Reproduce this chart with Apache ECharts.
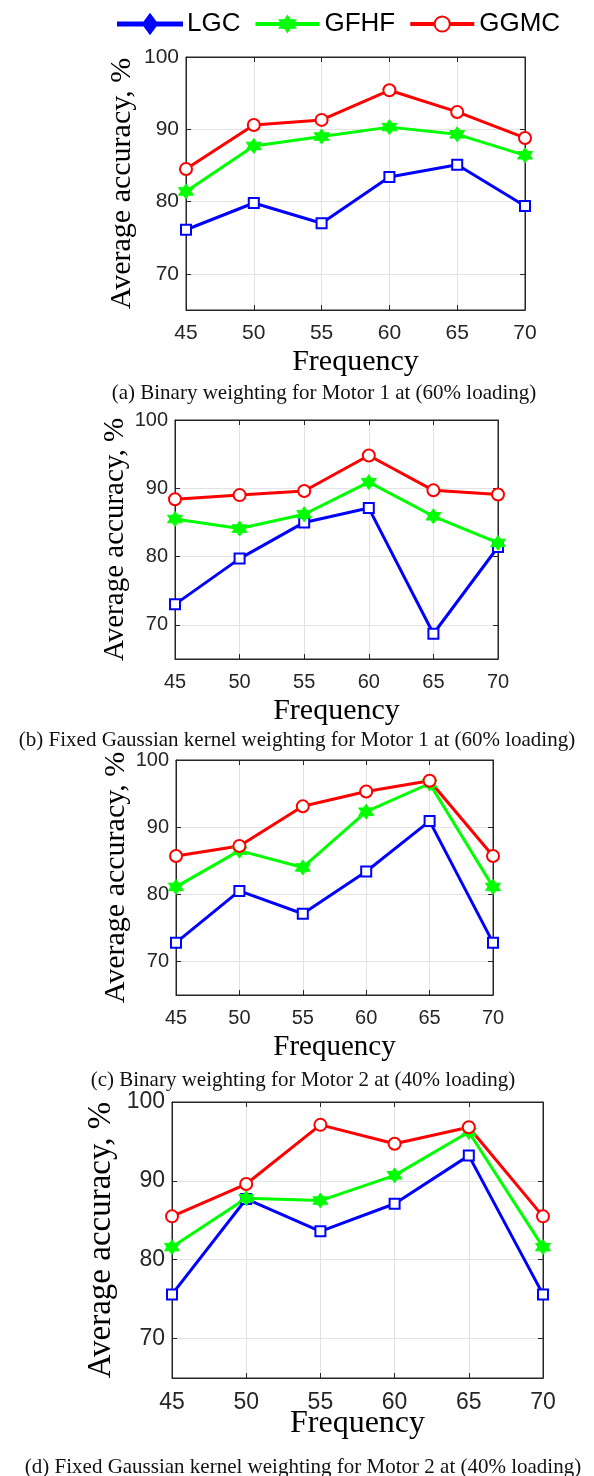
<!DOCTYPE html>
<html>
<head>
<meta charset="utf-8">
<script src="https://cdn.jsdelivr.net/npm/echarts@6/dist/echarts.min.js"></script>
<style>
  html, body { margin: 0; padding: 0; background: #fff; }
  #main { width: 594px; height: 1476px; }
</style>
</head>
<body>
<div id="main"></div>
<script>
// x categories (frequency) and tick labels
var freq = [45, 50, 55, 60, 65, 70];
var yTicks = [70, 80, 90, 100];

// (a) Binary weighting, Motor 1
var lgcA  = [76.1, 79.8, 77.0, 83.4, 85.1, 79.4];
var gfhfA = [81.4, 87.7, 89.0, 90.3, 89.3, 86.4];
var ggmcA = [84.5, 90.6, 91.3, 95.4, 92.4, 88.8];
// (b) Fixed Gaussian kernel weighting, Motor 1
var lgcB  = [73.0, 79.7, 85.0, 87.1, 68.7, 81.4];
var gfhfB = [85.5, 84.1, 86.2, 90.9, 85.9, 82.0];
var ggmcB = [88.4, 89.0, 89.6, 94.8, 89.7, 89.1];
// (c) Binary weighting, Motor 2
var lgcC  = [72.8, 80.5, 77.1, 83.4, 90.9, 72.8];
var gfhfC = [81.1, 86.5, 84.0, 92.3, 96.5, 81.1];
var ggmcC = [85.7, 87.2, 93.1, 95.3, 96.9, 85.7];
// (d) Fixed Gaussian kernel weighting, Motor 2
var lgcD  = [75.6, 87.7, 83.6, 87.1, 93.2, 75.6];
var gfhfD = [81.6, 87.8, 87.5, 90.7, 96.2, 81.6];
var ggmcD = [85.5, 89.6, 97.1, 94.7, 96.8, 85.5];

var captions = [
    '(a) Binary weighting for Motor 1 at (60% loading)',
    '(b) Fixed Gaussian kernel weighting for Motor 1 at (60% loading)',
    '(c) Binary weighting for Motor 2 at (40% loading)',
    '(d) Fixed Gaussian kernel weighting for Motor 2 at (40% loading)'
];

var panelData = [
    [lgcA, gfhfA, ggmcA],
    [lgcB, gfhfB, ggmcB],
    [lgcC, gfhfC, ggmcC],
    [lgcD, gfhfD, ggmcD]
];

// layout of each panel (pixels)
var boxes = [
    {left: 186, top: 57,   width: 339, height: 253, tick: 21, yName: 30, yGap: 49, xName: 30, xGap: 37, capX: 324, capY: 393},
    {left: 175, top: 420,  width: 323, height: 239, tick: 20, yName: 29, yGap: 45, xName: 30, xGap: 37, capX: 297, capY: 740},
    {left: 176, top: 760,  width: 317, height: 235, tick: 20, yName: 30, yGap: 45, xName: 29, xGap: 38, capX: 303, capY: 1080},
    {left: 172, top: 1102, width: 371, height: 276, tick: 23, yName: 33, yGap: 54, xName: 32, xGap: 30, capX: 303, capY: 1467}
];

var names = ['LGC', 'GFHF', 'GGMC'];
var colors = ['#0000ff', '#00ff00', '#ff0000'];
var star = 'path://M50 0L64.43 25L93.3 25L78.87 50L93.3 75L64.43 75L50 100L35.57 75L6.7 75L21.13 50L6.7 25L35.57 25Z';
var symbols = ['emptyRect', star, 'emptyCircle'];
var symbolSizes = [10, 15, 12];
// legend shows a diamond on a line for LGC
var lgcIcon = 'path://M0 8L26 8L32 0L38 8L64 8L64 11L38 11L32 19L26 11L0 11Z';

var axisColor = '#262626';
var gridColor = '#e3e3e3';

var myChart = echarts.init(document.getElementById('main'), null, {renderer: 'canvas'});

var grids = [], xAxes = [], yAxes = [], series = [], graphics = [];

boxes.forEach(function (b, i) {
    grids.push({
        left: b.left, top: b.top, width: b.width, height: b.height,
        show: true, borderColor: axisColor, borderWidth: 1, backgroundColor: '#fff'
    });
    var lineCommon = {show: true, onZero: false, lineStyle: {color: axisColor, width: 1}};
    var tickCommon = {show: true, inside: true, length: 5, lineStyle: {color: axisColor, width: 1}};
    // bottom + top x axes
    xAxes.push({
        gridIndex: i, type: 'value', position: 'bottom',
        min: 45, max: 70, interval: 5,
        name: 'Frequency', nameLocation: 'middle', nameGap: b.xGap, nameMoveOverlap: false,
        nameTextStyle: {fontFamily: 'Liberation Serif', fontSize: b.xName, color: '#000'},
        axisLine: lineCommon, axisTick: tickCommon,
        axisLabel: {fontFamily: 'Liberation Sans', fontSize: b.tick, color: axisColor, margin: 13},
        splitLine: {show: true, lineStyle: {color: gridColor, width: 1}}
    });
    xAxes.push({
        gridIndex: i, type: 'value', position: 'top',
        min: 45, max: 70, interval: 5,
        axisLine: lineCommon, axisTick: tickCommon,
        axisLabel: {show: false}, splitLine: {show: false}
    });
    // left + right y axes
    yAxes.push({
        gridIndex: i, type: 'value', position: 'left',
        min: 65, max: 100, splitNumber: 4,
        name: 'Average accuracy, %', nameLocation: 'middle', nameGap: b.yGap, nameMoveOverlap: false,
        nameTextStyle: {fontFamily: 'Liberation Serif', fontSize: b.yName, color: '#000'},
        axisLine: lineCommon, axisTick: tickCommon,
        axisLabel: {
            fontFamily: 'Liberation Sans', fontSize: b.tick, color: axisColor, margin: 7,
            showMinLabel: false,
            formatter: function (v) { return yTicks.indexOf(v) >= 0 ? String(v) : ''; }
        },
        splitLine: {show: true, lineStyle: {color: gridColor, width: 1}}
    });
    yAxes.push({
        gridIndex: i, type: 'value', position: 'right',
        min: 65, max: 100, splitNumber: 4,
        axisLine: lineCommon, axisTick: tickCommon,
        axisLabel: {show: false}, splitLine: {show: false}
    });

    panelData[i].forEach(function (vals, k) {
        series.push({
            name: names[k], type: 'line',
            xAxisIndex: i * 2, yAxisIndex: i * 2,
            data: freq.map(function (f, j) { return [f, vals[j]]; }),
            symbol: symbols[k], symbolSize: symbolSizes[k], showSymbol: true,
            lineStyle: {color: colors[k], width: 3},
            itemStyle: {color: colors[k], borderColor: colors[k], borderWidth: k === 1 ? 1 : 2},
            emphasis: {disabled: true},
            animation: false
        });
    });

    graphics.push({
        type: 'text', x: b.capX, y: b.capY,
        style: {
            text: captions[i], fontFamily: 'Liberation Serif', fontSize: 21,
            fill: '#111', align: 'center', verticalAlign: 'middle'
        }
    });
});

var option = {
    backgroundColor: '#fff',
    animation: false,
    legend: {
        left: 112, top: 6, itemWidth: 64, itemHeight: 19, itemGap: 13,
        lineStyle: {width: 4},
        textStyle: {fontFamily: 'Liberation Sans', fontSize: 26, color: '#000'},
        data: [{name: 'LGC', icon: lgcIcon}, 'GFHF', 'GGMC']
    },
    grid: grids,
    xAxis: xAxes,
    yAxis: yAxes,
    series: series,
    graphic: graphics
};

myChart.setOption(option);
window.onresize = myChart.resize;
</script>
</body>
</html>
